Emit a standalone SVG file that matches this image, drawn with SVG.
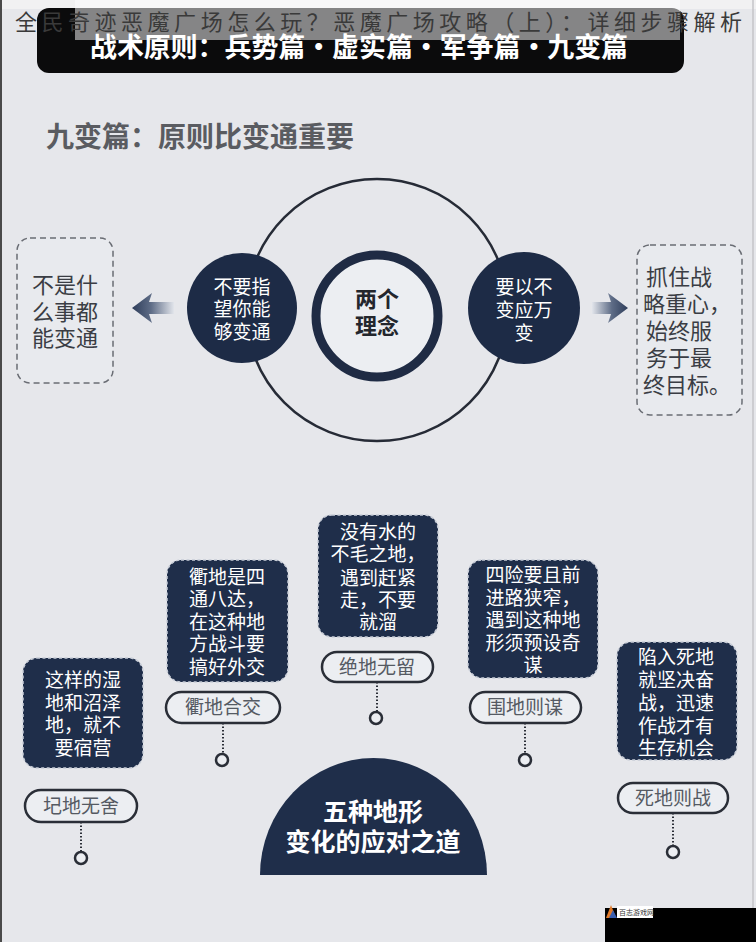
<svg xmlns="http://www.w3.org/2000/svg" width="756" height="942" viewBox="0 0 756 942">
  <style>
    .cjk { font-family: "Noto Sans CJK SC", "Noto Sans", sans-serif; }
    .box { fill: #1f2e4a; stroke: #c8cdd7; stroke-width: 1.5; stroke-dasharray: 3 2.5; }
    .boxtxt { fill: #ffffff; font-size: 19px; text-anchor: middle; }
    .pill { fill: #eceef2; stroke: #2a2e37; stroke-width: 2.5; }
    .pilltxt { fill: #555a63; font-size: 19px; text-anchor: middle; }
    .dot { stroke: #2a2e37; stroke-width: 2; stroke-dasharray: 1.5 2; fill: none; }
    .end { fill: #eceef2; stroke: #2a2e37; stroke-width: 2.5; }
    .dash { fill: #e8eaee; stroke: #6a6d74; stroke-width: 1.5; stroke-dasharray: 6 4; }
    .dashtxt { fill: #3a3d44; font-size: 22px; }
    .dcirc { fill: #1d2b46; }
    .ctxt { fill: #ffffff; font-size: 19px; text-anchor: middle; }
  </style>
  <defs>
    <linearGradient id="gl" x1="132" y1="0" x2="174" y2="0" gradientUnits="userSpaceOnUse">
      <stop offset="0" stop-color="#2e3d5a"/>
      <stop offset="0.45" stop-color="#5e6c86"/>
      <stop offset="1" stop-color="#e2e5eb"/>
    </linearGradient>
    <linearGradient id="gr" x1="628" y1="0" x2="592" y2="0" gradientUnits="userSpaceOnUse">
      <stop offset="0" stop-color="#2e3d5a"/>
      <stop offset="0.45" stop-color="#5e6c86"/>
      <stop offset="1" stop-color="#e2e5eb"/>
    </linearGradient>
  </defs>

  <!-- background -->
  <rect x="0" y="0" width="756" height="942" fill="#e6e7eb"/>
  <rect x="0" y="0" width="756" height="9" fill="#f1f1f2"/>
  <line x1="1" y1="0" x2="1" y2="942" stroke="#4a4a4a" stroke-width="2"/>
  <line x1="753" y1="0" x2="753" y2="942" stroke="#c4c5c9" stroke-width="1.5"/>

  <!-- header -->
  <g id="header">
    <rect x="37" y="8" width="647" height="65" rx="12" fill="#0b0b0c"/>
    <text class="cjk" x="90" y="57" font-size="27" font-weight="700" fill="#ffffff" textLength="538" lengthAdjust="spacingAndGlyphs">战术原则：兵势篇·虚实篇·军争篇·九变篇</text>
    <rect x="75" y="0" width="605" height="40" fill="#ffffff" fill-opacity="0.5"/>
    <text class="cjk" x="15" y="30" font-size="22" fill="#3a3a3a" textLength="727" lengthAdjust="spacing">全民奇迹恶魔广场怎么玩？恶魔广场攻略（上）：详细步骤解析</text>
  </g>

  <g id="section-title">
    <text class="cjk" x="46" y="147" font-size="28" font-weight="700" fill="#5a5c61">九变篇：原则比变通重要</text>
  </g>

  <!-- connectors -->
  <g id="connectors">
    <path d="M132,308 L152,293 L149,302 L174,302 L174,314 L149,314 L152,323 Z" fill="url(#gl)"/>
    <path d="M628,308 L608,293 L611,302 L592,302 L592,314 L611,314 L608,323 Z" fill="url(#gr)"/>
    <line class="dot" x1="81" y1="822" x2="81" y2="852"/>
    <line class="dot" x1="223" y1="723" x2="223" y2="754"/>
    <line class="dot" x1="377" y1="682" x2="377" y2="712"/>
    <line class="dot" x1="525" y1="723" x2="525" y2="754"/>
    <line class="dot" x1="673" y1="813" x2="673" y2="846"/>
  </g>

  <!-- big circle -->
  <g id="outer-circle">
    <circle cx="377" cy="310" r="131" fill="none" stroke="#262b36" stroke-width="2.5"/>
  </g>

  <g id="center-concept">
    <circle cx="377" cy="316" r="61" fill="#eceef2" stroke="#1f2b44" stroke-width="9"/>
    <text class="cjk" x="377" y="307" font-size="22" font-weight="700" fill="#23262d" text-anchor="middle">两个</text>
    <text class="cjk" x="377" y="334" font-size="22" font-weight="700" fill="#23262d" text-anchor="middle">理念</text>
  </g>

  <g id="left-concept">
    <circle class="dcirc" cx="242" cy="308" r="55"/>
    <text class="cjk ctxt" x="242" y="294">不要指</text>
    <text class="cjk ctxt" x="242" y="316">望你能</text>
    <text class="cjk ctxt" x="242" y="339">够变通</text>
  </g>

  <g id="right-concept">
    <circle class="dcirc" cx="524" cy="308" r="56"/>
    <text class="cjk ctxt" x="524" y="294">要以不</text>
    <text class="cjk ctxt" x="524" y="317">变应万</text>
    <text class="cjk ctxt" x="524" y="340">变</text>
  </g>

  <g id="left-note">
    <rect class="dash" x="17" y="238" width="96" height="145" rx="13"/>
    <text class="cjk dashtxt" x="65" y="293" text-anchor="middle">不是什</text>
    <text class="cjk dashtxt" x="65" y="320" text-anchor="middle">么事都</text>
    <text class="cjk dashtxt" x="65" y="346" text-anchor="middle">能变通</text>
  </g>

  <g id="right-note">
    <rect class="dash" x="637" y="245" width="105" height="170" rx="13"/>
    <text class="cjk dashtxt" x="646" y="285">抓住战</text>
    <text class="cjk dashtxt" x="643" y="312">略重心，</text>
    <text class="cjk dashtxt" x="646" y="339">始终服</text>
    <text class="cjk dashtxt" x="646" y="366">务于最</text>
    <text class="cjk dashtxt" x="643" y="393">终目标。</text>
  </g>

  <!-- terrain nodes -->
  <g id="node-piedi">
    <rect class="box" x="23" y="658" width="120" height="110" rx="14"/>
    <text class="cjk boxtxt" x="83" y="687">这样的湿</text>
    <text class="cjk boxtxt" x="83" y="710">地和沼泽</text>
    <text class="cjk boxtxt" x="83" y="732">地，就不</text>
    <text class="cjk boxtxt" x="83" y="755">要宿营</text>
    <rect class="pill" x="25" y="790" width="112" height="32" rx="16"/>
    <text class="cjk pilltxt" x="81" y="813">圮地无舍</text>
    <circle class="end" cx="81" cy="858" r="6"/>
  </g>

  <g id="node-qudi">
    <rect class="box" x="167" y="560" width="121" height="122" rx="14"/>
    <text class="cjk boxtxt" x="227" y="584">衢地是四</text>
    <text class="cjk boxtxt" x="227" y="606">通八达，</text>
    <text class="cjk boxtxt" x="227" y="629">在这种地</text>
    <text class="cjk boxtxt" x="227" y="651">方战斗要</text>
    <text class="cjk boxtxt" x="227" y="674">搞好外交</text>
    <rect class="pill" x="166" y="692" width="114" height="31" rx="15.5"/>
    <text class="cjk pilltxt" x="223" y="714">衢地合交</text>
    <circle class="end" cx="222" cy="760" r="6"/>
  </g>

  <g id="node-juedi">
    <rect class="box" x="318" y="515" width="120" height="122" rx="14"/>
    <text class="cjk boxtxt" x="378" y="539">没有水的</text>
    <text class="cjk boxtxt" x="378" y="561">不毛之地，</text>
    <text class="cjk boxtxt" x="378" y="585">遇到赶紧</text>
    <text class="cjk boxtxt" x="378" y="607">走，不要</text>
    <text class="cjk boxtxt" x="378" y="629">就溜</text>
    <rect class="pill" x="322" y="652" width="111" height="30" rx="15"/>
    <text class="cjk pilltxt" x="377" y="674">绝地无留</text>
    <circle class="end" cx="376" cy="718" r="6"/>
  </g>

  <g id="node-weidi">
    <rect class="box" x="468" y="560" width="130" height="118" rx="14"/>
    <text class="cjk boxtxt" x="533" y="582">四险要且前</text>
    <text class="cjk boxtxt" x="533" y="605">进路狭窄，</text>
    <text class="cjk boxtxt" x="533" y="627">遇到这种地</text>
    <text class="cjk boxtxt" x="533" y="650">形须预设奇</text>
    <text class="cjk boxtxt" x="533" y="672">谋</text>
    <rect class="pill" x="470" y="692" width="111" height="31" rx="15.5"/>
    <text class="cjk pilltxt" x="525" y="714">围地则谋</text>
    <circle class="end" cx="525" cy="760" r="6"/>
  </g>

  <g id="node-sidi">
    <rect class="box" x="617" y="642" width="120" height="118" rx="14"/>
    <text class="cjk boxtxt" x="676" y="664">陷入死地</text>
    <text class="cjk boxtxt" x="676" y="687">就坚决奋</text>
    <text class="cjk boxtxt" x="676" y="710">战，迅速</text>
    <text class="cjk boxtxt" x="676" y="733">作战才有</text>
    <text class="cjk boxtxt" x="676" y="755">生存机会</text>
    <rect class="pill" x="618" y="783" width="110" height="30" rx="15"/>
    <text class="cjk pilltxt" x="673" y="805">死地则战</text>
    <circle class="end" cx="673" cy="852" r="6"/>
  </g>

  <g id="dome">
    <path d="M260,875 A113.5,117 0 0 1 487,875 Z" fill="#1f2e4a"/>
    <text class="cjk" x="373" y="821" font-size="25" font-weight="700" fill="#ffffff" text-anchor="middle">五种地形</text>
    <text class="cjk" x="373" y="851" font-size="25" font-weight="700" fill="#ffffff" text-anchor="middle">变化的应对之道</text>
  </g>

  <!-- watermark corner -->
  <g id="watermark">
    <rect x="605" y="908" width="151" height="34" fill="#000000"/>
    <rect x="617" y="906" width="36" height="12" fill="#ffffff"/>
    <polygon points="606,918 611,905 616,918" fill="#e07a2a"/>
    <polygon points="609,918 613,910 617,918" fill="#3a5fb0"/>
    <text class="cjk" x="619" y="915" font-size="7" fill="#333333">百志游戏网</text>
  </g>
</svg>
